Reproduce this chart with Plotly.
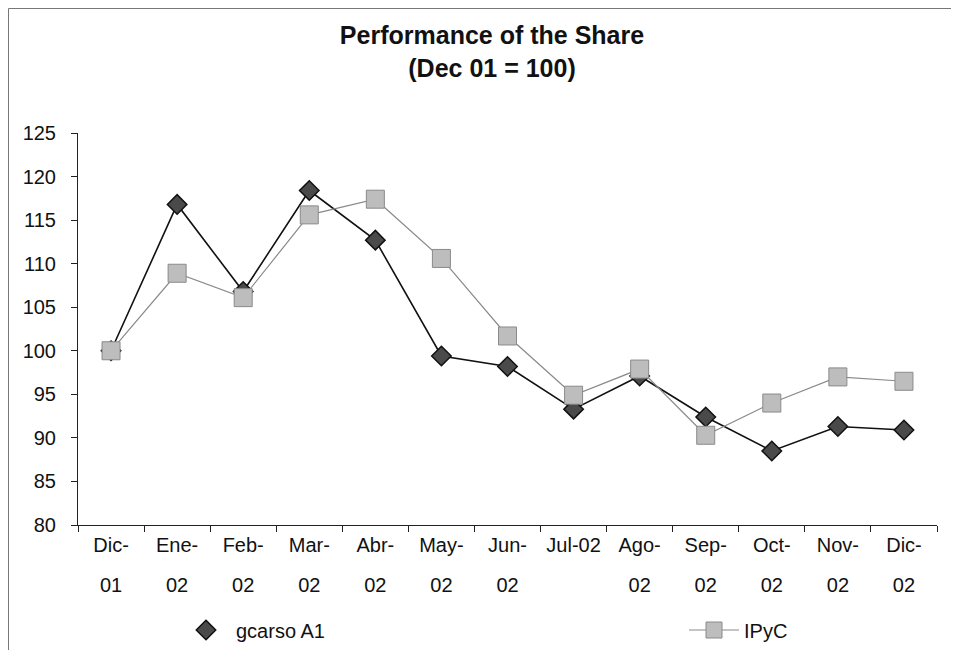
import plotly.graph_objects as go

# ---- data ----
months = ["Dic-01", "Ene-02", "Feb-02", "Mar-02", "Abr-02", "May-02", "Jun-02",
          "Jul-02", "Ago-02", "Sep-02", "Oct-02", "Nov-02", "Dic-02"]
gcarso_a1 = [100, 116.8, 106.8, 118.4, 112.7, 99.4, 98.2, 93.3, 97.1, 92.4, 88.5, 91.3, 90.9]
ipyc = [100, 108.9, 106.1, 115.6, 117.4, 110.6, 101.7, 94.9, 97.9, 90.3, 94.0, 97.0, 96.5]
y_ticks = [80, 85, 90, 95, 100, 105, 110, 115, 120, 125]

# two-line tick labels: first part on main axis, second part on overlay axis
line1 = []
line2 = []
for m in months:
    if m == "Jul-02":
        line1.append(m)
        line2.append("")
    else:
        a, b = m.split("-")
        line1.append(a + "-")
        line2.append(b)

FONT = "Arial, Liberation Sans, sans-serif"
OFF = 8  # page offset of the figure inside the browser window
W, H = 959 - OFF, 650 - OFF
L, R, T, B = 70, 22, 125, 125
pw, ph = W - L - R, H - T - B

def sx(x):
    """screen x (px) -> paper x"""
    return (x - OFF - L) / pw

def sy(y):
    """screen y (px) -> paper y"""
    return (H - B - (y - OFF)) / ph

diamond_marker = dict(symbol="diamond", size=15, color="#4a4a4a",
                      line=dict(color="#111111", width=1.5))
square_marker = dict(symbol="square", size=18, color="#bdbdbd",
                     line=dict(color="#8a8a8a", width=1))

fig = go.Figure()
fig.add_trace(go.Scatter(x=months, y=gcarso_a1, mode="lines+markers", name="gcarso A1",
                         line=dict(color="#111111", width=1.6), marker=diamond_marker,
                         showlegend=False))
fig.add_trace(go.Scatter(x=[None], y=[None], mode="markers", name="gcarso A1",
                         marker=diamond_marker, legend="legend"))
fig.add_trace(go.Scatter(x=months, y=ipyc, mode="lines+markers", name="IPyC",
                         line=dict(color="#8a8a8a", width=1.2), marker=square_marker,
                         legend="legend2"))
# invisible trace carrying the second-line category labels
fig.add_trace(go.Scatter(x=months, y=[None] * len(months), xaxis="x2", mode="markers",
                         showlegend=False, hoverinfo="skip"))

xr = [-0.5, len(months) - 0.5]

fig.update_layout(
    width=W, height=H,
    margin=dict(l=L, r=R, t=T, b=B, autoexpand=False),
    paper_bgcolor="white", plot_bgcolor="white",
    font=dict(family=FONT, size=20, color="#111111"),
    title=dict(text="<b>Performance of the Share<br>(Dec 01 = 100)</b>",
               font=dict(family=FONT, size=25, color="#111111"),
               x=sx(492), xanchor="center", xref="paper",
               y=1 - 36 / H, yanchor="top", yref="container"),
    xaxis=dict(type="category", categoryorder="array", categoryarray=months,
               range=xr, autorange=False, automargin=False,
               tickmode="array", tickvals=months, ticktext=line1, tickangle=0,
               showline=True, linecolor="#222222", linewidth=1,
               ticks="outside", ticklen=6, tickcolor="#222222", tickson="boundaries",
               showgrid=False, zeroline=False, ticklabelstandoff=2,
               tickfont=dict(size=20, color="#111111")),
    xaxis2=dict(type="category", categoryorder="array", categoryarray=months,
                range=xr, autorange=False, automargin=False,
                overlaying="x", anchor="y", side="bottom", tickangle=0,
                tickmode="array", tickvals=months, ticktext=line2,
                showline=False, ticks="", showgrid=False, zeroline=False,
                ticklabelstandoff=46, tickfont=dict(size=20, color="#111111")),
    yaxis=dict(range=[80, 125], autorange=False, tickvals=y_ticks, showline=True,
               automargin=False,
               linecolor="#222222", linewidth=1, ticks="outside", ticklen=6,
               tickcolor="#222222", showgrid=False, zeroline=False,
               ticklabelstandoff=11, tickfont=dict(size=20, color="#111111")),
    legend=dict(x=sx(176), y=sy(630), xanchor="left", yanchor="middle",
                itemwidth=50,
                bgcolor="rgba(0,0,0,0)", font=dict(size=20)),
    legend2=dict(x=sx(684), y=sy(630), xanchor="left", yanchor="middle",
                 itemwidth=50,
                 bgcolor="rgba(0,0,0,0)", font=dict(size=20)),
    shapes=[
        dict(type="line", xref="paper", yref="paper", x0=sx(8.5), x1=sx(8.5),
             y0=sy(8.5), y1=sy(650), line=dict(color="#777777", width=1)),
        dict(type="line", xref="paper", yref="paper", x0=sx(8.5), x1=sx(959),
             y0=sy(8.5), y1=sy(8.5), line=dict(color="#777777", width=1)),
    ],
)

fig.write_html("out.html")
